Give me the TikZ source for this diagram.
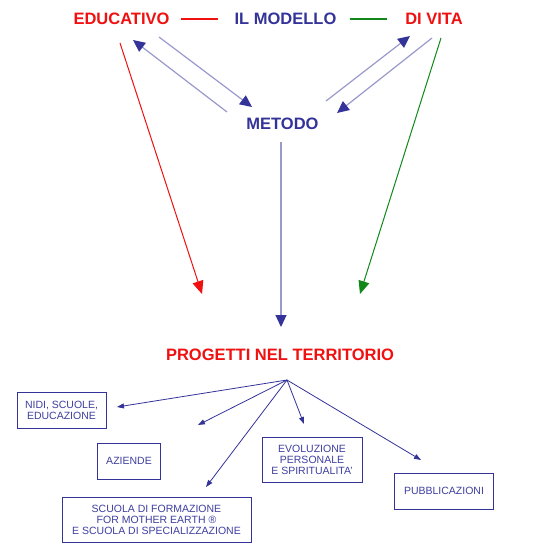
\documentclass[tikz,border=0pt]{standalone}
\usepackage{fontspec}
\setmainfont{Liberation Sans}
\usetikzlibrary{arrows.meta}
\definecolor{dblue}{HTML}{333399}
\definecolor{lblue}{HTML}{9999CC}
\definecolor{tblue}{HTML}{3F3FA0}
\definecolor{myred}{HTML}{F01010}
\definecolor{mygreen}{HTML}{10881A}
\tikzset{
  title/.style={font=\fontsize{16.5}{18}\selectfont\bfseries, inner sep=0pt, text depth=0pt},
  bluearrow/.style={draw=lblue, line width=1.2pt, -{Triangle[length=12pt,width=11pt,color=dblue]}},
  fanarrow/.style={draw=dblue, line width=0.8pt, -{Triangle[length=7pt,width=5pt,color=dblue]}},
  boxnode/.style={draw=dblue, line width=0.9pt, text=tblue, align=center, inner sep=0pt,
    font=\fontsize{10.5}{11}\selectfont},
}
\begin{document}
\begin{tikzpicture}[x=1pt,y=-1pt]
\useasboundingbox[fill=white] (0,0) rectangle (556,554);
% titles
\node[title, text=myred] (edu) at (121.5,19) {EDUCATIVO};
\node[title, text=dblue] (mod) at (285.5,19) {IL MODELLO};
\node[title, text=myred] (vita) at (434,19) {DI VITA};
\draw[myred, line width=2pt] (edu.east) ++(11,0) coordinate (r1) -- ++(37,0) coordinate (r2);
\draw[mygreen, line width=2pt] (mod.west) ++(-48,0) coordinate (q1);
\draw[mygreen, line width=2pt] (mod.east) ++(13,0) coordinate (g1) -- ++(37,0) coordinate (g2);
\node[title, text=dblue] (met) at (282.5,124) {METODO};
\node[title, text=myred] (prog) at (280,355) {PROGETTI NEL TERRITORIO};
% arrow endpoints
\coordinate (a1s) at (227,112); \coordinate (a1e) at (133,40);
\coordinate (a2s) at (159,37);  \coordinate (a2e) at (252,107);
\coordinate (a3s) at (326,101); \coordinate (a3e) at (410,36);
\coordinate (a4s) at (432,38);  \coordinate (a4e) at (337,113);
\coordinate (ms) at (281,142);  \coordinate (me) at (281,327);
\coordinate (rs) at (120,43);   \coordinate (re) at (202,294);
\coordinate (gs) at (441,38);   \coordinate (ge) at (360,294);
\draw[bluearrow] (a1s) -- (a1e);
\draw[bluearrow] (a2s) -- (a2e);
\draw[bluearrow] (a3s) -- (a3e);
\draw[bluearrow] (a4s) -- (a4e);
\draw[bluearrow] (ms) -- (me);
\draw[myred, line width=1pt, -{Triangle[length=13pt,width=11pt,color=myred]}] (rs) -- (re);
\draw[mygreen, line width=1pt, -{Triangle[length=13pt,width=11pt,color=mygreen]}] (gs) -- (ge);
% boxes
\node[boxnode, minimum width=89pt, minimum height=36pt] (nidi) at (61.5,410) {NIDI, SCUOLE,\\EDUCAZIONE};
\node[boxnode, minimum width=62.5pt, minimum height=36pt] (az) at (129,461) {AZIENDE};
\node[boxnode, minimum width=189pt, minimum height=45pt] (scu) at (156.5,519.5) {SCUOLA DI FORMAZIONE\\FOR MOTHER EARTH ®\\E SCUOLA DI SPECIALIZZAZIONE};
\node[boxnode, minimum width=100pt, minimum height=45pt] (evo) at (312,459.5) {EVOLUZIONE\\PERSONALE\\E SPIRITUALITA'};
\node[boxnode, minimum width=99pt, minimum height=36pt] (pub) at (444,491) {PUBBLICAZIONI};
% fan
\coordinate (fan) at (287,380);
\coordinate (f1) at (117,407);
\coordinate (f2) at (198,425);
\coordinate (f3) at (206,487);
\coordinate (f4) at (304,424);
\coordinate (f5) at (421,460);
\draw[fanarrow] (fan) -- (f1);
\draw[fanarrow] (fan) -- (f2);
\draw[fanarrow] (fan) -- (f3);
\draw[fanarrow] (fan) -- (f4);
\draw[fanarrow] (fan) -- (f5);
\end{tikzpicture}
\end{document}
